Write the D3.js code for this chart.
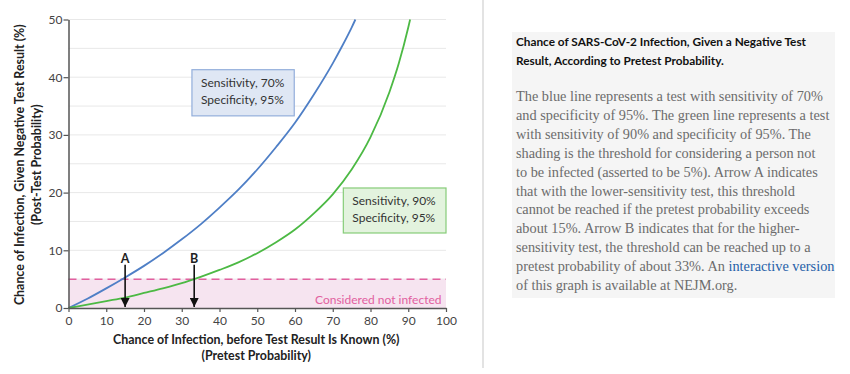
<!DOCTYPE html>
<html>
<head>
<meta charset="utf-8">
<script src="https://cdn.jsdelivr.net/npm/d3@7"></script>
<style>
  body { margin: 0; background: #fff; }
  svg { display: block; }
</style>
</head>
<body>
<div id="chart"></div>
<script>
// pretest probability (%)
const pretestBlue = [0, 5, 10, 15, 20, 25, 30, 35, 40, 45, 50, 55, 60, 65, 70, 72.5, 75, 76];
const postBlue    = [0, 1.6, 3.4, 5.3, 7.3, 9.5, 11.9, 14.5, 17.4, 20.5, 24.0, 27.9, 32.1, 37.0, 42.4, 45.4, 48.6, 50];

const pretestGreen = [0, 5, 10, 15, 20, 25, 30, 35, 40, 45, 50, 55, 60, 65, 70, 75, 80, 85, 87.5, 90, 90.5];
const postGreen    = [0, 0.6, 1.2, 1.8, 2.6, 3.4, 4.3, 5.4, 6.6, 7.9, 9.5, 11.4, 13.6, 16.4, 19.7, 24.0, 29.6, 37.4, 42.4, 48.6, 50];

const xTicks = [0, 10, 20, 30, 40, 50, 60, 70, 80, 90, 100];
const yTicks = [0, 10, 20, 30, 40, 50];
const gridLines = [5, 10, 15, 20, 25, 30, 35, 40, 45, 50];
const threshold = 5;
const arrows = [{ label: "A", x: 15 }, { label: "B", x: 33.3 }];

const boxLabels = [
  { lines: ["Sensitivity, 70%", "Specificity, 95%"], x0: 32.7, x1: 59.8, y0: 41.3, y1: 33.3, kind: "blue" },
  { lines: ["Sensitivity, 90%", "Specificity, 95%"], x0: 72.8, x1: 100, y0: 20.8, y1: 13.0, kind: "green" }
];

const captionTitle = ["Chance of SARS-CoV-2 Infection, Given a Negative Test",
                      "Result, According to Pretest Probability."];
const captionBody = [
  "The blue line represents a test with sensitivity of 70%",
  "and specificity of 95%. The green line represents a test",
  "with sensitivity of 90% and specificity of 95%. The",
  "shading is the threshold for considering a person not",
  "to be infected (asserted to be 5%). Arrow A indicates",
  "that with the lower-sensitivity test, this threshold",
  "cannot be reached if the pretest probability exceeds",
  "about 15%. Arrow B indicates that for the higher-",
  "sensitivity test, the threshold can be reached up to a",
  "pretest probability of about 33%. An |interactive version",
  "of this graph is available at NEJM.org."
];

const colors = {
  blue: "#4f7fc6", green: "#4cb944",
  blueFill: "#dfe7f4", blueStroke: "#93aedb",
  greenFill: "#e3f3de", greenStroke: "#86cc78",
  pink: "#e2609f", pinkFill: "#f6e4f0"
};

const W = 850, H = 374;
const margin = { left: 68.5, right: 404, top: 19.5, bottom: 66 };
const plotW = W - margin.left - margin.right;
const plotH = H - margin.top - margin.bottom;

const svg = d3.select("#chart").append("svg").attr("width", W).attr("height", H);
const chart = svg.append("g").attr("transform", `translate(${margin.left},${margin.top})`);

const x = d3.scaleLinear().domain([0, 100]).range([0, plotW]);
const y = d3.scaleLinear().domain([0, 50]).range([plotH, 0]);

const sans = "Lato, 'Open Sans', sans-serif";

// grid
chart.selectAll(".grid").data(gridLines).join("line")
  .attr("x1", 0).attr("x2", plotW)
  .attr("y1", d => y(d)).attr("y2", d => y(d))
  .attr("stroke", "#e8e8e8").attr("stroke-width", 1);

// shaded threshold zone
chart.append("rect")
  .attr("x", 0).attr("y", y(threshold))
  .attr("width", plotW).attr("height", y(0) - y(threshold))
  .attr("fill", colors.pinkFill);

chart.append("line")
  .attr("x1", 0).attr("x2", plotW)
  .attr("y1", y(threshold)).attr("y2", y(threshold))
  .attr("stroke", colors.pink).attr("stroke-width", 1.5)
  .attr("stroke-dasharray", "8,5");

chart.append("text")
  .attr("x", x(98.8)).attr("y", y(1.5) + 4.5)
  .attr("text-anchor", "end")
  .attr("fill", colors.pink)
  .style("font-family", sans).style("font-size", "12px")
  .text("Considered not infected");

// curves
const line = d3.line()
  .x(d => x(d[0]))
  .y(d => y(d[1]))
  .curve(d3.curveMonotoneX);

chart.append("path")
  .datum(d3.zip(pretestBlue, postBlue))
  .attr("fill", "none").attr("stroke", colors.blue).attr("stroke-width", 1.8)
  .attr("d", line);

chart.append("path")
  .datum(d3.zip(pretestGreen, postGreen))
  .attr("fill", "none").attr("stroke", colors.green).attr("stroke-width", 1.8)
  .attr("d", line);

// label boxes
const boxes = chart.selectAll(".box").data(boxLabels).join("g");
boxes.append("rect")
  .attr("x", d => x(d.x0)).attr("y", d => y(d.y0))
  .attr("width", d => x(d.x1) - x(d.x0)).attr("height", d => y(d.y1) - y(d.y0))
  .attr("fill", d => colors[d.kind + "Fill"])
  .attr("stroke", d => colors[d.kind + "Stroke"]).attr("stroke-width", 1.2);
boxes.each(function (d) {
  d3.select(this).selectAll("text").data(d.lines).join("text")
    .attr("x", x(d.x0) + 9)
    .attr("y", (t, i) => y(d.y0) + 17.5 + i * 17)
    .attr("fill", "#333")
    .style("font-family", sans).style("font-size", "12px")
    .text(t => t);
});

// arrows
svg.append("defs").append("marker")
  .attr("id", "head").attr("viewBox", "0 0 10 10")
  .attr("refX", 10).attr("refY", 5)
  .attr("markerWidth", 9).attr("markerHeight", 9)
  .attr("markerUnits", "userSpaceOnUse")
  .attr("orient", "auto")
  .append("path").attr("d", "M0,0L10,5L0,10Z").attr("fill", "#111");

const arr = chart.selectAll(".arrow").data(arrows).join("g");
arr.append("line")
  .attr("x1", d => x(d.x)).attr("x2", d => x(d.x))
  .attr("y1", y(7.5)).attr("y2", y(0) - 1)
  .attr("stroke", "#111").attr("stroke-width", 1.6)
  .attr("marker-end", "url(#head)");
arr.append("text")
  .attr("x", d => x(d.x)).attr("y", y(7.5) - 2)
  .attr("text-anchor", "middle")
  .attr("fill", "#222")
  .style("font-family", sans).style("font-size", "12.5px").style("font-weight", 700)
  .text(d => d.label);

// axes
const xAxis = d3.axisBottom(x).tickValues(xTicks).tickSize(4).tickSizeOuter(0);
const yAxis = d3.axisLeft(y).tickValues(yTicks).tickSize(5).tickSizeOuter(0);

const xg = chart.append("g").attr("transform", `translate(0,${plotH})`).call(xAxis);
const yg = chart.append("g").call(yAxis);
[xg, yg].forEach(g => {
  g.select(".domain").attr("stroke", "#555").attr("stroke-width", 1.5);
  g.selectAll(".tick line").attr("stroke", "#555").attr("stroke-width", 1.2);
  g.selectAll(".tick text").attr("fill", "#444")
    .style("font-family", sans).style("font-size", "12px");
});
yg.selectAll(".tick text").attr("x", -6);
xg.selectAll(".tick text").attr("y", 8);

// axis titles
const xTitle = svg.append("text")
  .attr("x", margin.left + plotW / 2 - 1).attr("y", 344)
  .attr("text-anchor", "middle").attr("fill", "#222")
  .style("font-family", sans).style("font-size", "12.4px").style("font-weight", 700);
xTitle.append("tspan").attr("x", margin.left + plotW / 2 - 1).text("Chance of Infection, before Test Result Is Known (%)");
xTitle.append("tspan").attr("x", margin.left + plotW / 2 - 1).attr("dy", 15.5).text("(Pretest Probability)");

const yTitle = svg.append("text")
  .attr("transform", `translate(23.5,${margin.top + plotH / 2 + 1}) rotate(-90)`)
  .attr("text-anchor", "middle").attr("fill", "#222")
  .style("font-family", sans).style("font-size", "12.4px").style("font-weight", 700);
yTitle.append("tspan").attr("x", 0).text("Chance of Infection, Given Negative Test Result (%)");
yTitle.append("tspan").attr("x", 0).attr("dy", 17).text("(Post-Test Probability)");

// separator
svg.append("line")
  .attr("x1", 483).attr("x2", 483).attr("y1", 0).attr("y2", 368)
  .attr("stroke", "#e3e3e3").attr("stroke-width", 2);

// caption panel
svg.append("rect")
  .attr("x", 512).attr("y", 32).attr("width", 323).attr("height", 266)
  .attr("fill", "#f5f5f5");

svg.append("g").selectAll("text").data(captionTitle).join("text")
  .attr("x", 516).attr("y", (d, i) => 45.5 + i * 19)
  .attr("fill", "#111")
  .style("font-family", sans).style("font-size", "11.8px").style("font-weight", 700)
  .text(d => d);

const body = svg.append("g").selectAll("text").data(captionBody).join("text")
  .attr("x", 516).attr("y", (d, i) => 101 + i * 18.9)
  .attr("fill", "#6c6c6c")
  .style("font-family", "'Liberation Serif', serif").style("font-size", "14.3px");
body.each(function (d) {
  const parts = d.split("|");
  const t = d3.select(this);
  t.append("tspan").text(parts[0]);
  if (parts[1]) t.append("tspan").attr("fill", "#1f5fa8").text(parts[1]);
});
</script>
</body>
</html>
